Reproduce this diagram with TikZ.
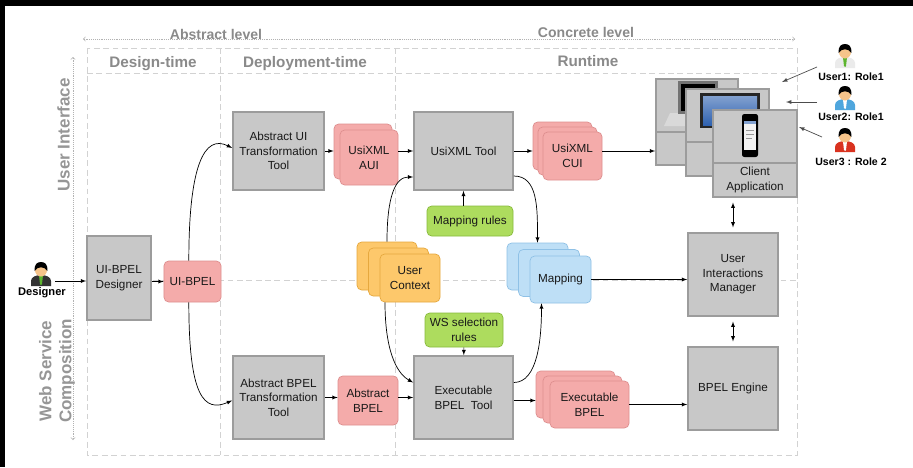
\documentclass[tikz,border=0pt]{standalone}
\usepackage{fontspec}
\setmainfont{Liberation Sans}
\usepackage{xcolor}
\usepackage{tikz}
\usetikzlibrary{arrows,positioning,calc,shadows}
\definecolor{boxfill}{HTML}{C8C8C8}
\definecolor{boxline}{HTML}{9C9C9C}
\definecolor{pinkfill}{HTML}{F4ABAA}
\definecolor{pinkline}{HTML}{DE8F8F}
\definecolor{ctxfill}{HTML}{FDC86B}
\definecolor{ctxline}{HTML}{E6A83E}
\definecolor{mapfill}{HTML}{BEDFF6}
\definecolor{mapline}{HTML}{8FC1E6}
\definecolor{rulefill}{HTML}{ADDC5E}
\definecolor{ruleline}{HTML}{88BA3C}
\definecolor{headgray}{HTML}{8A8A8A}
\definecolor{lanegray}{HTML}{D2D2D2}
\definecolor{skin}{HTML}{F6C48A}
\definecolor{shirtblue}{HTML}{4FA6DD}
\definecolor{shirtred}{HTML}{D9321F}
\definecolor{tiegreen}{HTML}{5DB52E}
\definecolor{screenblue}{HTML}{2F62B0}
\newcommand{\nodefont}{\fontsize{10}{12.5}\selectfont}
% small person: position, shirt colour, tie colour
\newcommand{\usericon}[3]{%
  \begin{scope}[shift={(#1)}]
    \fill[#2] (-10,12) -- (-10,7) .. controls (-10,3) and (-5,1) .. (0,1) .. controls (5,1) and (10,3) .. (10,7) -- (10,12) -- cycle;
    \fill[#3] (-2,1.5) -- (2,1.5) -- (1,10) -- (0,11) -- (-1,10) -- cycle;
    \fill[skin] (0,-4) ellipse [x radius=6, y radius=6.5];
    \fill[black] (-6.3,-3) .. controls (-7,-10) and (-3.5,-12) .. (0,-12) .. controls (3.5,-12) and (7,-10) .. (6.3,-3) .. controls (4,-8) and (-4,-8) .. cycle;
  \end{scope}}

\begin{document}
\begin{tikzpicture}[x=0.03cm, y=-0.03cm, >=latex,
  toolbox/.style={rectangle, draw=boxline, fill=boxfill, line width=1.4pt, align=center, font=\nodefont, text=black!90, inner sep=1pt},
  artefact/.style={rectangle, rounded corners=4pt, line width=0.6pt, align=center, font=\nodefont, text=black!90, inner sep=1pt},
  pinkdoc/.style={artefact, draw=pinkline, fill=pinkfill},
  ctxdoc/.style={artefact, draw=ctxline, fill=ctxfill},
  mapdoc/.style={artefact, draw=mapline, fill=mapfill},
  ruledoc/.style={artefact, draw=ruleline, fill=rulefill},
  conn/.style={->, line width=0.6pt, black},
  twoway/.style={<->, line width=0.6pt, black, shorten <=4pt, shorten >=4pt},
  userarrow/.style={->, line width=0.6pt, black!70},
  laneline/.style={lanegray, dashed, dash pattern=on 5pt off 3pt, line width=0.6pt},
  levelline/.style={black!30, densely dotted, line width=0.6pt},
  levellbl/.style={font=\bfseries\fontsize{12}{14}\selectfont, text=headgray, anchor=base, inner sep=1pt},
  timelbl/.style={font=\bfseries\fontsize{13}{15}\selectfont, text=headgray, anchor=base},
  sidelbl/.style={font=\bfseries\fontsize{14.5}{17}\selectfont, text=headgray!90, rotate=90, align=center},
  userlbl/.style={font=\bfseries\fontsize{9}{11}\selectfont}]
\useasboundingbox (0,0) rectangle (913,467);
\fill[white] (0,0) rectangle (913,467);
\fill[black] (0,0) rectangle (913,6);
\fill[black] (0,0) rectangle (5,467);

% lanes
\draw[laneline] (87,48) rectangle (797,455);
\draw[laneline] (87,73) -- (797,73);
\draw[laneline] (87,280) -- (797,280);
\draw[laneline] (220,48) -- (220,455);
\draw[laneline] (395,48) -- (395,455);
\draw[levelline, to-to] (83,39) -- (795,39);
\draw[levelline, to-to] (73,57) -- (73,440);
\node[levellbl] (abstractlbl) at (216,39.5) {Abstract level};
\node[levellbl] (concretelbl) at (586,37) {Concrete level};
\node[timelbl] (designtime) at (153,67) {Design-time};
\node[timelbl] (deploytime) at (305,67) {Deployment-time};
\node[timelbl] (runtime) at (588,66) {Runtime};
\node[sidelbl] (uilbl) at (63.5,135) {User Interface};
\node[sidelbl] (wslbl) at (57,371) {Web Service\\Composition};

% design-time
\coordinate (designer) at (41,274);
\usericon{designer}{black!80}{tiegreen}
\node[userlbl, font=\bfseries\fontsize{9.5}{11}\selectfont] (designerlbl) at (42,293) {Designer};
\node[toolbox, minimum width=1.92cm, minimum height=2.52cm] (uid) at (119,278) {UI-BPEL\\Designer};
\node[pinkdoc, minimum width=1.71cm, minimum height=1.23cm] (uibpel) at (192.5,281.5) {UI-BPEL};

% deployment-time
\node[toolbox, minimum width=2.73cm, minimum height=2.34cm] (auitool) at (278.5,151) {Abstract UI\\Transformation\\Tool};
\node[pinkdoc, minimum width=1.74cm, minimum height=1.65cm,
  copy shadow={shadow xshift=-0.18cm, shadow yshift=0.18cm, fill=pinkfill, draw=pinkline}] (aui) at (369,157.5) {UsiXML\\AUI};
\node[toolbox, minimum width=2.73cm, minimum height=2.49cm] (bpeltool) at (278.5,397.5) {Abstract BPEL\\Transformation\\Tool};
\node[pinkdoc, minimum width=1.8cm, minimum height=1.47cm] (absbpel) at (368,400.5) {Abstract\\BPEL};

% runtime
\node[toolbox, minimum width=2.97cm, minimum height=2.34cm] (usitool) at (463.5,151) {UsiXML Tool};
\node[pinkdoc, minimum width=1.77cm, minimum height=1.44cm,
  copy shadow={shadow xshift=-0.3cm, shadow yshift=0.3cm, fill=pinkfill, draw=pinkline},
  copy shadow={shadow xshift=-0.15cm, shadow yshift=0.15cm, fill=pinkfill, draw=pinkline}] (cui) at (572.5,156) {UsiXML\\CUI};
\node[ruledoc, minimum width=2.58cm, minimum height=0.9cm] (maprules) at (470,221) {Mapping rules};
\node[ctxdoc, minimum width=1.8cm, minimum height=1.44cm,
  copy shadow={shadow xshift=-0.69cm, shadow yshift=0.36cm, fill=ctxfill, draw=ctxline},
  copy shadow={shadow xshift=-0.345cm, shadow yshift=0.18cm, fill=ctxfill, draw=ctxline}] (ctx) at (410,278) {User\\Context};
\node[mapdoc, minimum width=1.83cm, minimum height=1.41cm,
  copy shadow={shadow xshift=-0.69cm, shadow yshift=0.39cm, fill=mapfill, draw=mapline},
  copy shadow={shadow xshift=-0.345cm, shadow yshift=0.195cm, fill=mapfill, draw=mapline}] (mapping) at (560.5,279.5) {Mapping};
\node[ruledoc, minimum width=2.34cm, minimum height=1.02cm] (wsrules) at (464,330) {WS selection\\rules};
\node[toolbox, minimum width=2.97cm, minimum height=2.49cm] (exectool) at (463.5,397.5) {Executable\\BPEL~~Tool};
\node[pinkdoc, minimum width=2.37cm, minimum height=1.41cm,
  copy shadow={shadow xshift=-0.42cm, shadow yshift=0.3cm, fill=pinkfill, draw=pinkline},
  copy shadow={shadow xshift=-0.21cm, shadow yshift=0.15cm, fill=pinkfill, draw=pinkline}] (execbpel) at (589.5,404.5) {Executable\\BPEL};
\node[toolbox, minimum width=2.7cm, minimum height=2.49cm] (uim) at (733,274.5) {User\\Interactions\\Manager};
\node[toolbox, minimum width=2.7cm, minimum height=2.49cm] (engine) at (733,388.5) {BPEL Engine};

% client devices: laptop, monitor, phone
\node[toolbox, minimum width=2.46cm, minimum height=1.59cm] (dev1top) at (697,105.5) {};
\node[toolbox, minimum width=2.46cm, minimum height=0.99cm] (dev1bot) at (697,148.5) {};
\fill[black!15] (670,113) -- (716,113) -- (722,126) -- (664,126) -- cycle;
\fill[black!55] (678,81) rectangle (718,114);
\fill[black] (681,84) rectangle (715,111);
\node[toolbox, minimum width=2.49cm, minimum height=1.59cm] (dev2top) at (727.5,115.5) {};
\node[toolbox, minimum width=2.49cm, minimum height=1.02cm] (dev2bot) at (727.5,159) {};
\fill[black!85] (700,93) rectangle (760,128);
\shade[top color=screenblue!60!white, bottom color=screenblue] (703,96) rectangle (757,125);
\node[toolbox, minimum width=2.52cm, minimum height=1.59cm] (dev3top) at (755,136.5) {};
\node[toolbox, minimum width=2.52cm, minimum height=1.02cm] (client) at (755,180) {Client\\Application};
\fill[black, rounded corners=2pt] (742,114) rectangle (758,157);
\fill[black!5] (744,121) rectangle (756,150);
\fill[screenblue!60] (744,121) rectangle (756,124);
\draw[black!40, line width=0.4pt] (746,130) -- (754,130) (746,134) -- (754,134) (746,138) -- (752,138);

% users
\coordinate (user1) at (845,56);
\coordinate (user2) at (845,98);
\coordinate (user3) at (845,140);
\usericon{user1}{black!8}{tiegreen}
\usericon{user2}{shirtblue}{white}
\usericon{user3}{shirtred}{white}
\node[userlbl] (user1lbl) at (851,77) {User1: Role1};
\node[userlbl] (user2lbl) at (851,117) {User2: Role1};
\node[userlbl] (user3lbl) at (851,162) {User3 : Role 2};
\coordinate (u1tail) at (817,67);
\coordinate (u1head) at (782,82);
\coordinate (u2tail) at (817,102);
\coordinate (u2head) at (786,102);
\coordinate (u3tail) at (822,137);
\coordinate (u3head) at (799,127);
\draw[userarrow] (u1tail) -- (u1head);
\draw[userarrow] (u2tail) -- (u2head);
\draw[userarrow] (u3tail) -- (u3head);

% connectors
\draw[conn] ($(designer)+(14,7)$) -- ($(uid.west)+(0,3)$);
\draw[conn] ($(uid.east)+(0,3.5)$) -- (uibpel.west);
\draw[conn] (uibpel.100) .. controls +(0,-95) and +(-28,-14) .. ($(auitool.west)+(0,-3)$);
\draw[conn] (uibpel.260) .. controls +(0,95) and +(-28,12) .. ($(bpeltool.west)+(0,3)$);
\draw[conn] (auitool.east) -- ($(auitool.east -| aui.west)+(-6,0)$);
\draw[conn] (usitool.west -| aui.east) -- (usitool.west);
\draw[conn] (usitool.east) -- ($(usitool.east -| cui.west)+(-10,0)$);
\draw[conn] (usitool.east -| cui.east) -- (usitool.east -| dev1bot.west);
\draw[conn] (maprules.north -| usitool) -- (usitool.south);
\draw[conn] ($(usitool.east)+(0,25)$) .. controls +(24,0) and +(0,-35) .. ($(mapping.north)+(-23,-13)$);
\draw[conn] ($(ctx.north)+(-23,-12)$) .. controls +(0,-45) and +(-18,0) .. ($(usitool.west)+(0,26)$);
\draw[conn] ($(ctx.south)+(-25,0)$) .. controls +(0,45) and +(-18,-10) .. ($(exectool.west)+(0,-15)$);
\draw[conn] ($(exectool.east)+(0,-15)$) .. controls +(24,0) and +(0,35) .. ($(mapping.south)+(-19,0)$);
\draw[conn] (wsrules) -- (exectool);
\draw[conn] (bpeltool.east) -- (bpeltool.east -| absbpel.west);
\draw[conn] (absbpel.east |- exectool) -- (exectool.west);
\draw[conn] ($(exectool.east)+(0,3)$) -- ($(exectool.east -| execbpel.west)+(-14,3)$);
\draw[conn] (execbpel.east) -- (execbpel.east -| engine.west);
\draw[conn] (mapping.east) -- (mapping.east -| uim.west);
\draw[twoway] (uim) -- (engine);
\draw[twoway] (client.south -| uim) -- (uim.north);
\end{tikzpicture}
\end{document}
